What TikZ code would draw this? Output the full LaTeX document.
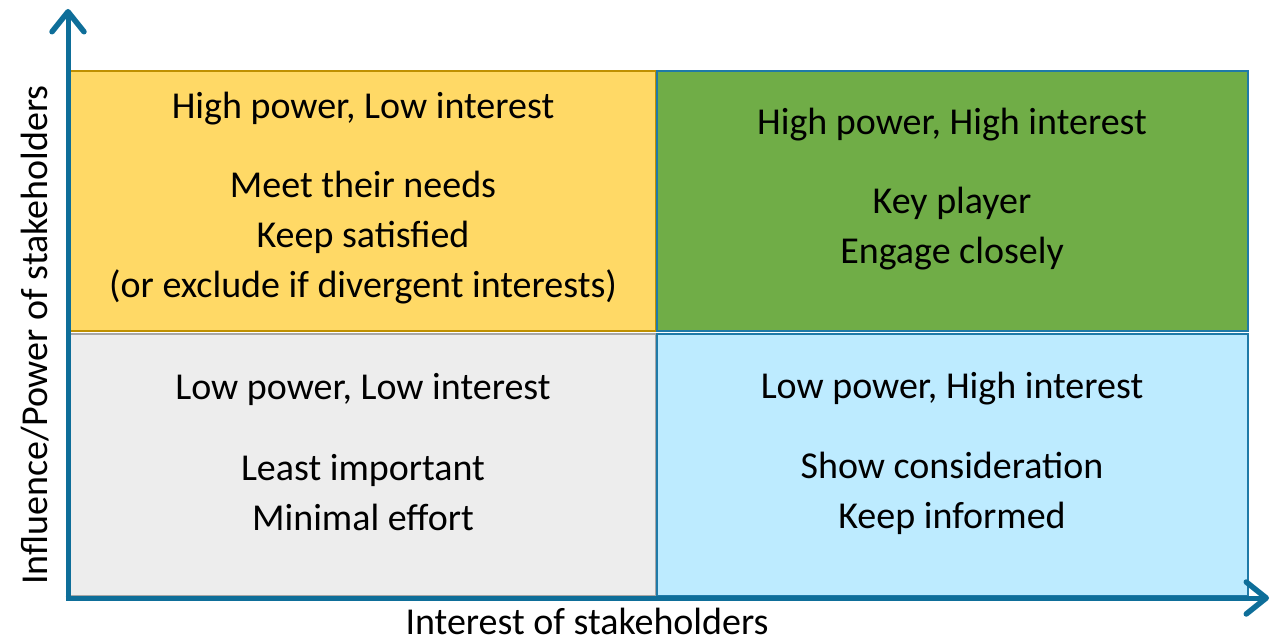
\documentclass[tikz,border=0pt]{standalone}
\usepackage{fontspec}
\setmainfont{Carlito}
\usetikzlibrary{arrows.meta}
\definecolor{axisblue}{HTML}{0E6E99}
\definecolor{qyellow}{HTML}{FFD966}
\definecolor{qyellowb}{HTML}{BF9000}
\definecolor{qgreen}{HTML}{70AD47}
\definecolor{qgray}{HTML}{EDEDED}
\definecolor{qgrayb}{HTML}{A6A6A6}
\definecolor{qblue}{HTML}{BDEBFF}
\definecolor{qblueb}{HTML}{1F7AA8}
\tikzset{
  quad/.style={line width=1.5pt},
  axis/.style={draw=axisblue, line width=5pt, -{Straight Barb[length=20pt,width=32pt,line width=5.5pt,round]}},
  qtext/.style={font=\fontsize{38}{50}\selectfont, align=center, text=black, inner sep=0pt},
}
\begin{document}
\begin{tikzpicture}[x=1pt,y=-1pt]
\useasboundingbox (0,0) rectangle (1271,642);
% quadrants
\path[quad, fill=qyellow, draw=qyellowb] (70,71) rectangle (656,331);
\path[quad, fill=qgreen, draw=qblueb] (657,71) rectangle (1248,331);
\path[quad, fill=qgray, draw=qgrayb] (70,334) rectangle (656,596);
\path[quad, fill=qblue, draw=qblueb] (657,334) rectangle (1248,596);
% axes
\coordinate (o) at (68,598);
\coordinate (ytop) at (68,9);
\coordinate (xend) at (1269,598);
\draw[axis] (68,600.5) -- (ytop);
\draw[axis] (65.5,598) -- (xend);
% texts
\node[qtext] (hl) at (363,109) {High power, Low interest};
\node[qtext] (hlb) at (363,238) {Meet their needs\\Keep satisfied\\(or exclude if divergent interests)};
\node[qtext] (hh) at (952,125) {High power, High interest};
\node[qtext] (hhb) at (952,228.5) {Key player\\Engage closely};
\node[qtext] (ll) at (363,389) {Low power, Low interest};
\node[qtext] (llb) at (363,493) {Least important\\Minimal effort};
\node[qtext] (lh) at (952,389) {Low power, High interest};
\node[qtext] (lhb) at (952,493) {Show consideration\\Keep informed};
\node[qtext, rotate=90] (ylab) at (35,335) {Influence/Power of stakeholders};
\node[qtext] (xlab) at (587,621) {Interest of stakeholders};
\end{tikzpicture}
\end{document}
